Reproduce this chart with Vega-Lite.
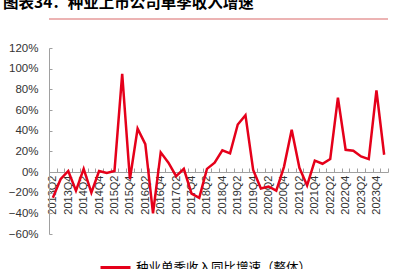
{
  "$schema": "https://vega.github.io/schema/vega-lite/v6.json",
  "width": 339,
  "height": 186,
  "autosize": "none",
  "padding": {"left": 49, "top": 48, "right": 12, "bottom": 35},
  "background": "white",
  "config": {
    "font": "Liberation Sans, Noto Sans CJK SC",
    "view": {"stroke": null}
  },
  "title": {
    "text": "图表34：种业上市公司单季收入增速",
    "anchor": "start",
    "frame": "group",
    "font": "Noto Sans CJK SC",
    "fontSize": 15.5,
    "fontWeight": "bold",
    "color": "#000000",
    "dx": -46,
    "offset": 7
  },
  "encoding": {
    "y": {
      "field": "v",
      "type": "quantitative",
      "scale": {"domain": [-0.6, 1.2], "nice": false, "zero": false},
      "axis": {
        "title": null,
        "format": ".0%",
        "values": [-0.6, -0.4, -0.2, 0, 0.2, 0.4, 0.6, 0.8, 1.0, 1.2],
        "labelOverlap": false,
        "labelFontSize": 11.5,
        "labelColor": "#333333",
        "labelPadding": 14,
        "tickSize": -3,
        "tickColor": "#a0a0a0",
        "domainColor": "#a0a0a0",
        "grid": false
      }
    }
  },
  "layer": [
    {
      "data": {
        "values": [
          {"q": "2013Q2", "v": -0.25}, {"q": "2013Q3", "v": -0.07}, {"q": "2013Q4", "v": 0.01},
          {"q": "2014Q1", "v": -0.18}, {"q": "2014Q2", "v": 0.03}, {"q": "2014Q3", "v": -0.20}, {"q": "2014Q4", "v": 0.01},
          {"q": "2015Q1", "v": -0.01}, {"q": "2015Q2", "v": 0.01}, {"q": "2015Q3", "v": 0.95}, {"q": "2015Q4", "v": -0.07},
          {"q": "2016Q1", "v": 0.42}, {"q": "2016Q2", "v": 0.27}, {"q": "2016Q3", "v": -0.40}, {"q": "2016Q4", "v": 0.19},
          {"q": "2017Q1", "v": 0.09}, {"q": "2017Q2", "v": -0.04}, {"q": "2017Q3", "v": 0.03}, {"q": "2017Q4", "v": -0.21},
          {"q": "2018Q1", "v": -0.25}, {"q": "2018Q2", "v": 0.03}, {"q": "2018Q3", "v": 0.09}, {"q": "2018Q4", "v": 0.21},
          {"q": "2019Q1", "v": 0.18}, {"q": "2019Q2", "v": 0.46}, {"q": "2019Q3", "v": 0.55}, {"q": "2019Q4", "v": 0.02},
          {"q": "2020Q1", "v": -0.16}, {"q": "2020Q2", "v": -0.14}, {"q": "2020Q3", "v": -0.18}, {"q": "2020Q4", "v": 0.05},
          {"q": "2021Q1", "v": 0.41}, {"q": "2021Q2", "v": 0.04}, {"q": "2021Q3", "v": -0.13}, {"q": "2021Q4", "v": 0.11},
          {"q": "2022Q1", "v": 0.08}, {"q": "2022Q2", "v": 0.125}, {"q": "2022Q3", "v": 0.72}, {"q": "2022Q4", "v": 0.215},
          {"q": "2023Q1", "v": 0.205}, {"q": "2023Q2", "v": 0.15}, {"q": "2023Q3", "v": 0.125}, {"q": "2023Q4", "v": 0.79},
          {"q": "2024Q1", "v": 0.167}
        ]
      },
      "mark": {"type": "line", "color": "#e5001a", "strokeWidth": 2.5, "strokeJoin": "miter"},
      "encoding": {
        "x": {
          "field": "q",
          "type": "ordinal",
          "sort": null,
          "scale": {"type": "band", "paddingInner": 0, "paddingOuter": 0},
          "axis": {
            "title": null,
            "orient": "bottom",
            "offset": -62,
            "labelAngle": -90,
            "labelFontSize": 11,
            "labelColor": "#333333",
            "labelExpr": "test(/Q[24]$/, datum.value) ? datum.value : ''",
            "labelOverlap": false,
            "labelPadding": 7,
            "tickBand": "extent",
            "tickSize": -4,
            "tickColor": "#a0a0a0",
            "domainColor": "#a0a0a0",
            "grid": false
          }
        },
        "color": {
          "datum": "种业单季收入同比增速（整体）",
          "type": "nominal",
          "scale": {"range": ["#e5001a"]},
          "legend": {
            "title": null,
            "orient": "none",
            "legendX": 50,
            "legendY": 203,
            "symbolType": "stroke",
            "symbolSize": 900,
            "symbolStrokeWidth": 3,
            "labelFont": "Noto Sans CJK SC",
            "labelFontSize": 12.5,
            "labelLimit": 400,
            "labelColor": "#000000"
          }
        }
      }
    },
    {
      "data": {"values": [{"v": 1.48, "q0": "2013Q2", "q1": "2024Q1"}]},
      "mark": {"type": "rule", "clip": false, "color": "#e69a9a", "strokeWidth": 1.5},
      "encoding": {
        "x": {"field": "q0", "type": "ordinal", "bandPosition": 0},
        "x2": {"field": "q1", "bandPosition": 1}
      }
    }
  ]
}
